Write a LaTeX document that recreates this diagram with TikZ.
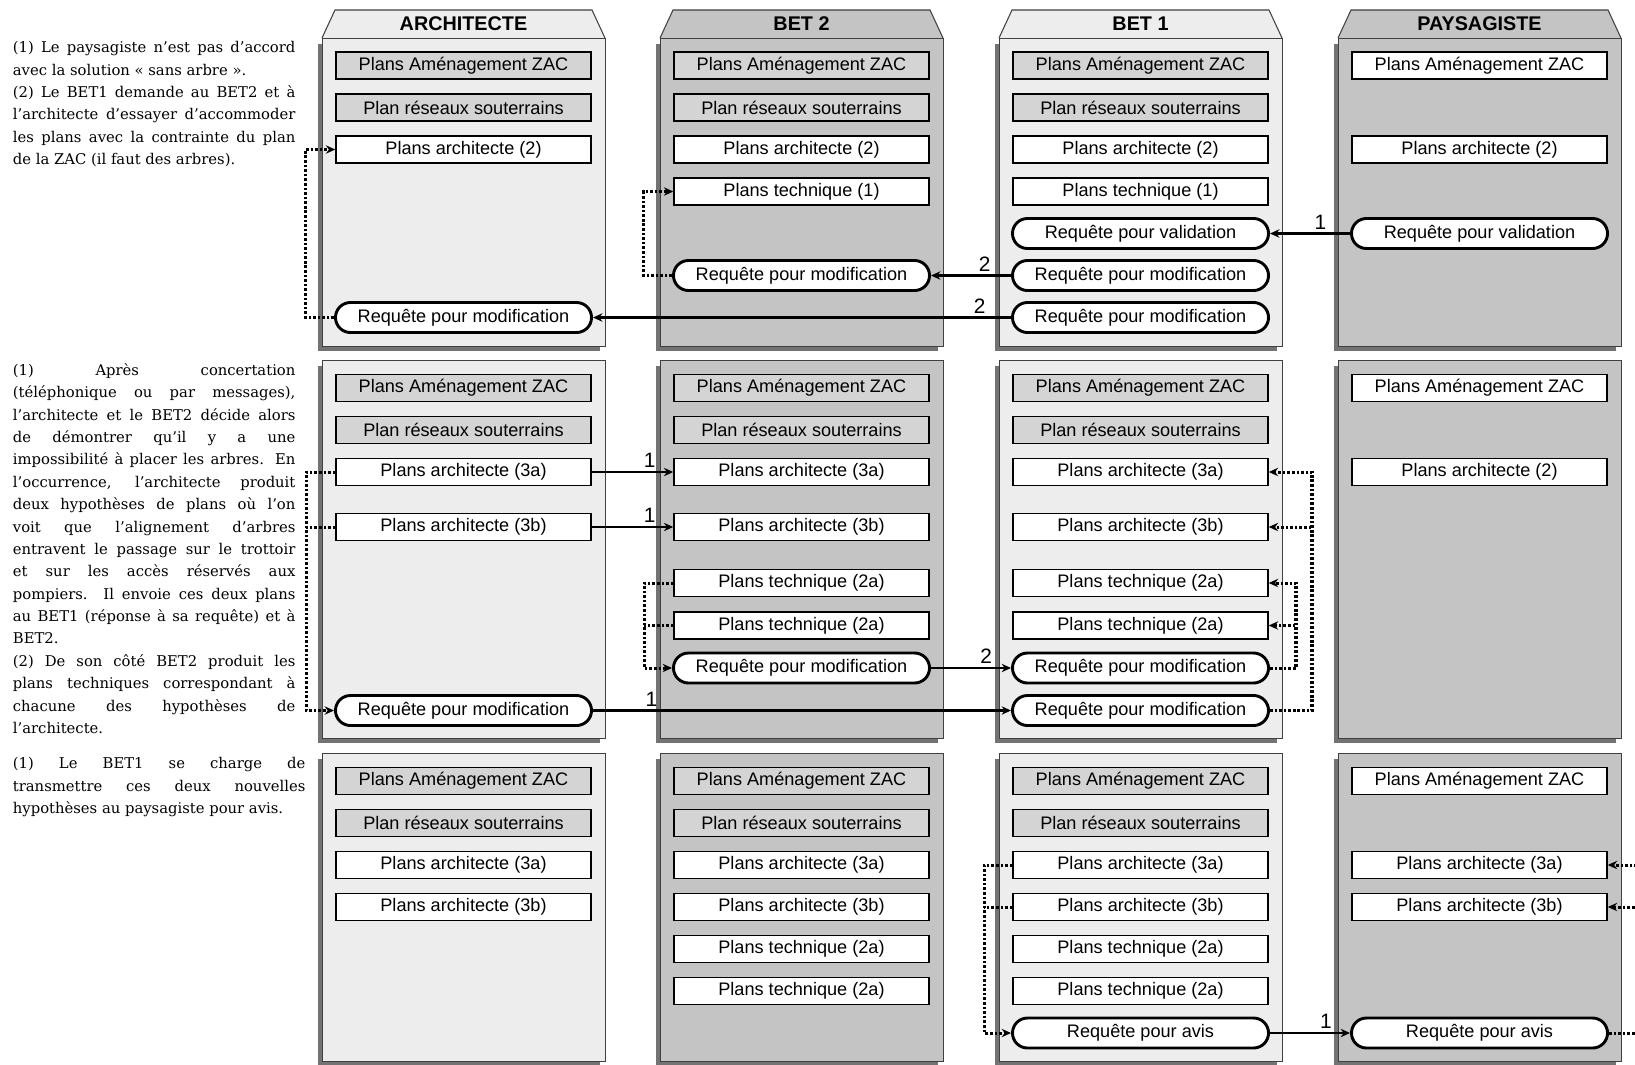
\documentclass[tikz,border=0pt]{standalone}
\usepackage{fontspec}
\setmainfont{DejaVu Serif}
\setsansfont{Liberation Sans}
\usetikzlibrary{arrows.meta, shapes.misc, shadows}
\setlength{\parindent}{0pt}
\tolerance=10000
\hyphenpenalty=10000
\definecolor{cLight}{gray}{0.93}
\definecolor{cDark}{gray}{0.77}
\definecolor{cDoc}{gray}{0.83}
\definecolor{cShadow}{gray}{0.45}
\tikzset{
	lane/.style   ={rectangle, draw=black!75, line width=0.5pt, anchor=north west, inner sep=0pt, minimum width=135.8pt, drop shadow={shadow xshift=-2.4pt, shadow yshift=-2.4pt, fill=cShadow, opacity=1}},
	tab/.style    ={draw=black!75, line width=0.5pt},
	head/.style   ={font=\sffamily\bfseries\fontsize{9.5}{11}\selectfont, inner sep=0pt},
	doc/.style    ={rectangle, draw=black, line width=0.7pt, fill=white, minimum width=122.4pt, minimum height=13pt, inner sep=0pt, font=\sffamily\fontsize{8.7}{10}\selectfont},
	given/.style  ={doc, fill=cDoc},
	req/.style    ={rounded rectangle, draw=black, line width=1.4pt, fill=white, minimum width=122.9pt, minimum height=14.4pt, inner sep=0pt, font=\sffamily\fontsize{8.7}{10}\selectfont},
	% connectors
	sig/.style    ={-{Stealth[length=4.5pt, width=4pt]}, line width=1.1pt},
	dotline/.style={line width=1.45pt, dash pattern=on 1.25pt off 0.95pt},
	dotsig/.style ={dotline, -{Stealth[length=4.5pt, width=4pt]}},
	num/.style    ={font=\sffamily\fontsize{10}{12}\selectfont, anchor=south, inner sep=1.5pt},
	note/.style   ={anchor=north west, inner sep=0pt, text width=135.6pt, align=justify, font={\fontsize{7.1}{10.75}\selectfont}},
}
\begin{document}
\begin{tikzpicture}[x=0.48pt, y=-0.48pt]
	\useasboundingbox (0,0) rectangle (1635,1064);
	\clip (0,0) rectangle (1635,1064);
	\fill[white] (0,0) rectangle (1635,1064);

	% lanes, one column per actor
	\foreach \x/\f/\t [count=\i] in {322/cLight/ARCHITECTE, 660/cDark/BET 2, 999/cLight/BET 1, 1338/cDark/PAYSAGISTE}{
		\draw[tab, fill=\f] (\x,38) -- ++(13,-28) -- ++(257,0) -- ++(13,28);
		\node[head] (h\i) at (\x+141.5,24) {\t};
		\node[lane, fill=\f, minimum height=147.6pt] (l\i-1) at (\x,38) {};
		\node[lane, fill=\f, minimum height=181.4pt] (l\i-2) at (\x,360) {};
		\node[lane, fill=\f, minimum height=147.8pt] (l\i-3) at (\x,753) {};
	}

	% comments on the left
	\node[note] (t1) at (12.5,41) {(1) Le paysagiste n’est pas d’accord\linebreak
		avec la solution «~sans arbre~».\par
		(2) Le BET1 demande au BET2 et à\linebreak
		l’architecte d’essayer d'accommoder\linebreak
		les plans avec la contrainte du plan\linebreak
		de la ZAC (il faut des arbres).};
	\node[note] (t2) at (12.5,363) {(1) Après concertation\linebreak
		(téléphonique ou par messages),\linebreak
		l’architecte et le BET2 décide alors\linebreak
		de démontrer qu’il y a une\linebreak
		impossibilité à placer les arbres. En\linebreak
		l'occurrence, l’architecte produit\linebreak
		deux hypothèses de plans où l’on\linebreak
		voit que l’alignement d’arbres\linebreak
		entravent le passage sur le trottoir\linebreak
		et sur les accès réservés aux\linebreak
		pompiers. Il envoie ces deux plans\linebreak
		au BET1 (réponse à sa requête) et à\linebreak
		BET2.\par
		(2) De son côté BET2 produit les\linebreak
		plans techniques correspondant à\linebreak
		chacune des hypothèses de\linebreak
		l’architecte.};
	\node[note, text width=140.4pt] (t3) at (12.5,757) {(1) Le BET1 se charge de\linebreak
		transmettre ces deux nouvelles\linebreak
		hypothèses au paysagiste pour avis.};

	% phase 1
	\node[given] (a1zac) at (463.5,65.5) {Plans Aménagement ZAC};
	\node[given] (a1res) at (463.5,107.5) {Plan réseaux souterrains};
	\node[doc]   (a1pa)  at (463.5,149.5) {Plans architecte (2)};
	\node[req]   (a1req) at (463.5,317.5) {Requête pour modification};

	\node[given] (b21zac) at (801.5,65.5) {Plans Aménagement ZAC};
	\node[given] (b21res) at (801.5,107.5) {Plan réseaux souterrains};
	\node[doc]   (b21pa)  at (801.5,149.5) {Plans architecte (2)};
	\node[doc]   (b21pt)  at (801.5,191.5) {Plans technique (1)};
	\node[req]   (b21req) at (801.5,275.5) {Requête pour modification};

	\node[given] (b11zac)  at (1140.5,65.5) {Plans Aménagement ZAC};
	\node[given] (b11res)  at (1140.5,107.5) {Plan réseaux souterrains};
	\node[doc]   (b11pa)   at (1140.5,149.5) {Plans architecte (2)};
	\node[doc]   (b11pt)   at (1140.5,191.5) {Plans technique (1)};
	\node[req]   (b11val)  at (1140.5,233.5) {Requête pour validation};
	\node[req]   (b11req)  at (1140.5,275.5) {Requête pour modification};
	\node[req]   (b11reqa) at (1140.5,317.5) {Requête pour modification};

	\node[doc] (p1zac) at (1479.5,65.5) {Plans Aménagement ZAC};
	\node[doc] (p1pa)  at (1479.5,149.5) {Plans architecte (2)};
	\node[req] (p1val) at (1479.5,233.5) {Requête pour validation};

	\draw[dotsig] (a1req.west) -- ++(-28.5,0) |- (a1pa.west);
	\draw[dotsig] (b21req.west) -- ++(-28.5,0) |- (b21pt.west);
	\draw[sig] (p1val.west) -- node[num, pos=0.37] (n1) {1} (b11val.east);
	\draw[sig] (b11req.west) -- node[num, pos=0.33] (n2) {2} (b21req.east);
	\draw[sig] (b11reqa.west) -- node[num, pos=0.075] (n3) {2} (a1req.east);

	% phase 2
	\node[given] (a2zac) at (463.5,388) {Plans Aménagement ZAC};
	\node[given] (a2res) at (463.5,430) {Plan réseaux souterrains};
	\node[doc]   (a2pa)  at (463.5,472) {Plans architecte (3a)};
	\node[doc]   (a2pb)  at (463.5,527) {Plans architecte (3b)};
	\node[req]   (a2req) at (463.5,710.5) {Requête pour modification};

	\node[given] (b22zac) at (801.5,388) {Plans Aménagement ZAC};
	\node[given] (b22res) at (801.5,430) {Plan réseaux souterrains};
	\node[doc]   (b22pa)  at (801.5,472) {Plans architecte (3a)};
	\node[doc]   (b22pb)  at (801.5,527) {Plans architecte (3b)};
	\node[doc]   (b22ta)  at (801.5,583) {Plans technique (2a)};
	\node[doc]   (b22tb)  at (801.5,625.5) {Plans technique (2a)};
	\node[req]   (b22req) at (801.5,668) {Requête pour modification};

	\node[given] (b12zac)  at (1140.5,388) {Plans Aménagement ZAC};
	\node[given] (b12res)  at (1140.5,430) {Plan réseaux souterrains};
	\node[doc]   (b12pa)   at (1140.5,472) {Plans architecte (3a)};
	\node[doc]   (b12pb)   at (1140.5,527) {Plans architecte (3b)};
	\node[doc]   (b12ta)   at (1140.5,583) {Plans technique (2a)};
	\node[doc]   (b12tb)   at (1140.5,625.5) {Plans technique (2a)};
	\node[req]   (b12req)  at (1140.5,668) {Requête pour modification};
	\node[req]   (b12reqa) at (1140.5,710.5) {Requête pour modification};

	\node[doc] (p2zac) at (1479.5,388) {Plans Aménagement ZAC};
	\node[doc] (p2pa)  at (1479.5,472) {Plans architecte (2)};

	\draw[sig] (a2pa.east) -- node[num, pos=0.71] (n4) {1} (b22pa.west);
	\draw[sig] (a2pb.east) -- node[num, pos=0.71] (n5) {1} (b22pb.west);
	\draw[dotsig] (a2pa.west) -- ++(-29,0) |- (a2req.west);
	\draw[dotline] (a2pb.west) -- ++(-29,0);
	\draw[dotsig] (b22ta.west) -- ++(-29,0) |- (b22req.west);
	\draw[dotline] (b22tb.west) -- ++(-29,0);
	\draw[sig] (b22req.east) -- node[num, pos=0.69] (n6) {2} (b12req.west);
	\draw[sig] (a2req.east) -- node[num, pos=0.14] (n7) {1} (b12reqa.west);
	\draw[dotsig] (b12req.east) -- ++(26,0) |- (b12ta.east);
	\draw[dotsig] (b12tb.east) ++(26.5,0) -- (b12tb.east);
	\draw[dotsig] (b12reqa.east) -- ++(42,0) |- (b12pa.east);
	\draw[dotsig] (b12pb.east) ++(42.5,0) -- (b12pb.east);

	% phase 3
	\node[given] (a3zac) at (463.5,781) {Plans Aménagement ZAC};
	\node[given] (a3res) at (463.5,823) {Plan réseaux souterrains};
	\node[doc]   (a3pa)  at (463.5,865) {Plans architecte (3a)};
	\node[doc]   (a3pb)  at (463.5,907) {Plans architecte (3b)};

	\node[given] (b23zac) at (801.5,781) {Plans Aménagement ZAC};
	\node[given] (b23res) at (801.5,823) {Plan réseaux souterrains};
	\node[doc]   (b23pa)  at (801.5,865) {Plans architecte (3a)};
	\node[doc]   (b23pb)  at (801.5,907) {Plans architecte (3b)};
	\node[doc]   (b23ta)  at (801.5,949) {Plans technique (2a)};
	\node[doc]   (b23tb)  at (801.5,991) {Plans technique (2a)};

	\node[given] (b13zac) at (1140.5,781) {Plans Aménagement ZAC};
	\node[given] (b13res) at (1140.5,823) {Plan réseaux souterrains};
	\node[doc]   (b13pa)  at (1140.5,865) {Plans architecte (3a)};
	\node[doc]   (b13pb)  at (1140.5,907) {Plans architecte (3b)};
	\node[doc]   (b13ta)  at (1140.5,949) {Plans technique (2a)};
	\node[doc]   (b13tb)  at (1140.5,991) {Plans technique (2a)};
	\node[req]   (b13req) at (1140.5,1033) {Requête pour avis};

	\node[doc] (p3zac) at (1479.5,781) {Plans Aménagement ZAC};
	\node[doc] (p3pa)  at (1479.5,865) {Plans architecte (3a)};
	\node[doc] (p3pb)  at (1479.5,907) {Plans architecte (3b)};
	\node[req] (p3req) at (1479.5,1033) {Requête pour avis};

	\draw[dotsig] (b13pa.west) -- ++(-28,0) |- (b13req.west);
	\draw[dotline] (b13pb.west) -- ++(-28,0);
	\draw[sig] (b13req.east) -- node[num, pos=0.7] (n8) {1} (p3req.west);
	\draw[dotsig] (p3req.east) -- ++(40,0) |- (p3pa.east);
	\draw[dotsig] (p3pb.east) ++(40.5,0) -- (p3pb.east);
\end{tikzpicture}
\end{document}
